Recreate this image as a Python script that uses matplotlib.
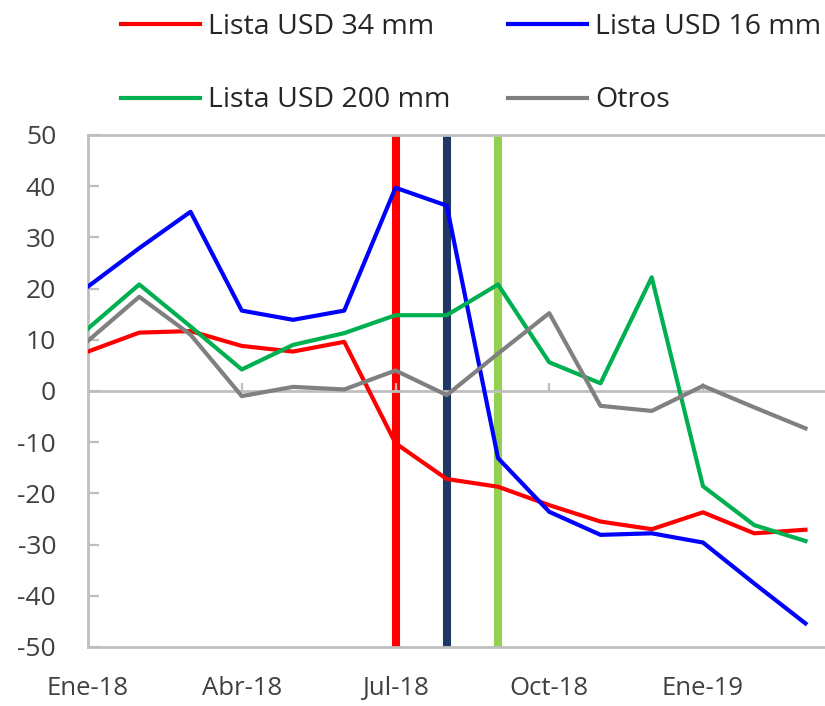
import numpy as np
import matplotlib.pyplot as plt

plt.rcParams['font.family'] = ['Open Sans', 'DejaVu Sans']
plt.rcParams['axes.unicode_minus'] = False

meses = ["Ene-18", "Feb-18", "Mar-18", "Abr-18", "May-18", "Jun-18", "Jul-18",
         "Ago-18", "Sep-18", "Oct-18", "Nov-18", "Dic-18", "Ene-19", "Feb-19", "Mar-19"]

usd_34 = [7.7, 11.4, 11.7, 8.8, 7.7, 9.6, -10.2, -17.2, -18.7, -22.3, -25.5, -27.0, -23.7, -27.8, -27.1]
usd_16 = [20.4, 27.9, 35.0, 15.7, 13.9, 15.7, 39.7, 36.2, -13.1, -23.6, -28.1, -27.8, -29.6, -37.6, -45.4]
usd_200 = [12.2, 20.8, 12.6, 4.2, 9.0, 11.3, 14.8, 14.8, 20.8, 5.6, 1.5, 22.2, -18.6, -26.2, -29.3]
otros = [9.8, 18.4, 11.0, -1.0, 0.8, 0.3, 4.0, -0.8, 7.3, 15.2, -2.9, -3.9, 1.0, -3.2, -7.3]

# meses marcados con linea vertical
marcas = ["Jul-18", "Ago-18", "Sep-18"]
colores_marcas = ["#ff0000", "#1f3864", "#92d050"]

etiquetas_x = ["Ene-18", "Abr-18", "Jul-18", "Oct-18", "Ene-19"]

x = np.arange(len(meses))
gris_eje = "#bfbfbf"
texto = "#404040"

fig = plt.figure(figsize=(8.25, 7.06), dpi=100)
ax = fig.add_axes([0.1067, 0.0836, 0.92, 0.7252])

for m, c in zip(marcas, colores_marcas):
    ax.axvline(meses.index(m), color=c, linewidth=5.8, zorder=1)

# eje en cero con marcas hacia arriba
pos = [meses.index(e) for e in etiquetas_x]
ax.axhline(0, color=gris_eje, linewidth=2, zorder=1.5)
ax.vlines(pos[1:], 0, 1.6, color=gris_eje, linewidth=1.6, zorder=1.5)

l1, = ax.plot(x, usd_34, color="#ff0000", linewidth=3, label="Lista USD 34 mm", zorder=3)
l2, = ax.plot(x, usd_16, color="#0000ff", linewidth=3, label="Lista USD 16 mm", zorder=3)
l3, = ax.plot(x, usd_200, color="#00b050", linewidth=3, label="Lista USD 200 mm", zorder=3)
l4, = ax.plot(x, otros, color="#808080", linewidth=3, label="Otros", zorder=3)

ax.set_ylim(-50, 50)
ax.set_xlim(0, (825 - 88) / 51.5 + 0.5)
ax.set_yticks(np.arange(-50, 51, 10))
ax.tick_params(axis="y", direction="in", length=8, width=1.6, color=gris_eje,
               labelsize=19, labelcolor=texto, pad=23)

ax.set_xticks(pos)
ax.set_xticklabels(etiquetas_x)
ax.tick_params(axis="x", length=0, labelsize=18.5, labelcolor=texto, pad=21)

for lado in ["left", "top", "bottom"]:
    ax.spines[lado].set_color(gris_eje)
    ax.spines[lado].set_linewidth(2)
ax.spines["right"].set_visible(False)

fig.legend(handles=[l1, l3, l2, l4], loc="upper left", bbox_to_anchor=(0.116, 1.018),
           ncol=2, frameon=False, handlelength=2.77, handletextpad=0.28,
           labelspacing=1.6, columnspacing=2.02, labelcolor="#262626", fontsize=20.5)

fig.savefig("out.png", dpi=100)
